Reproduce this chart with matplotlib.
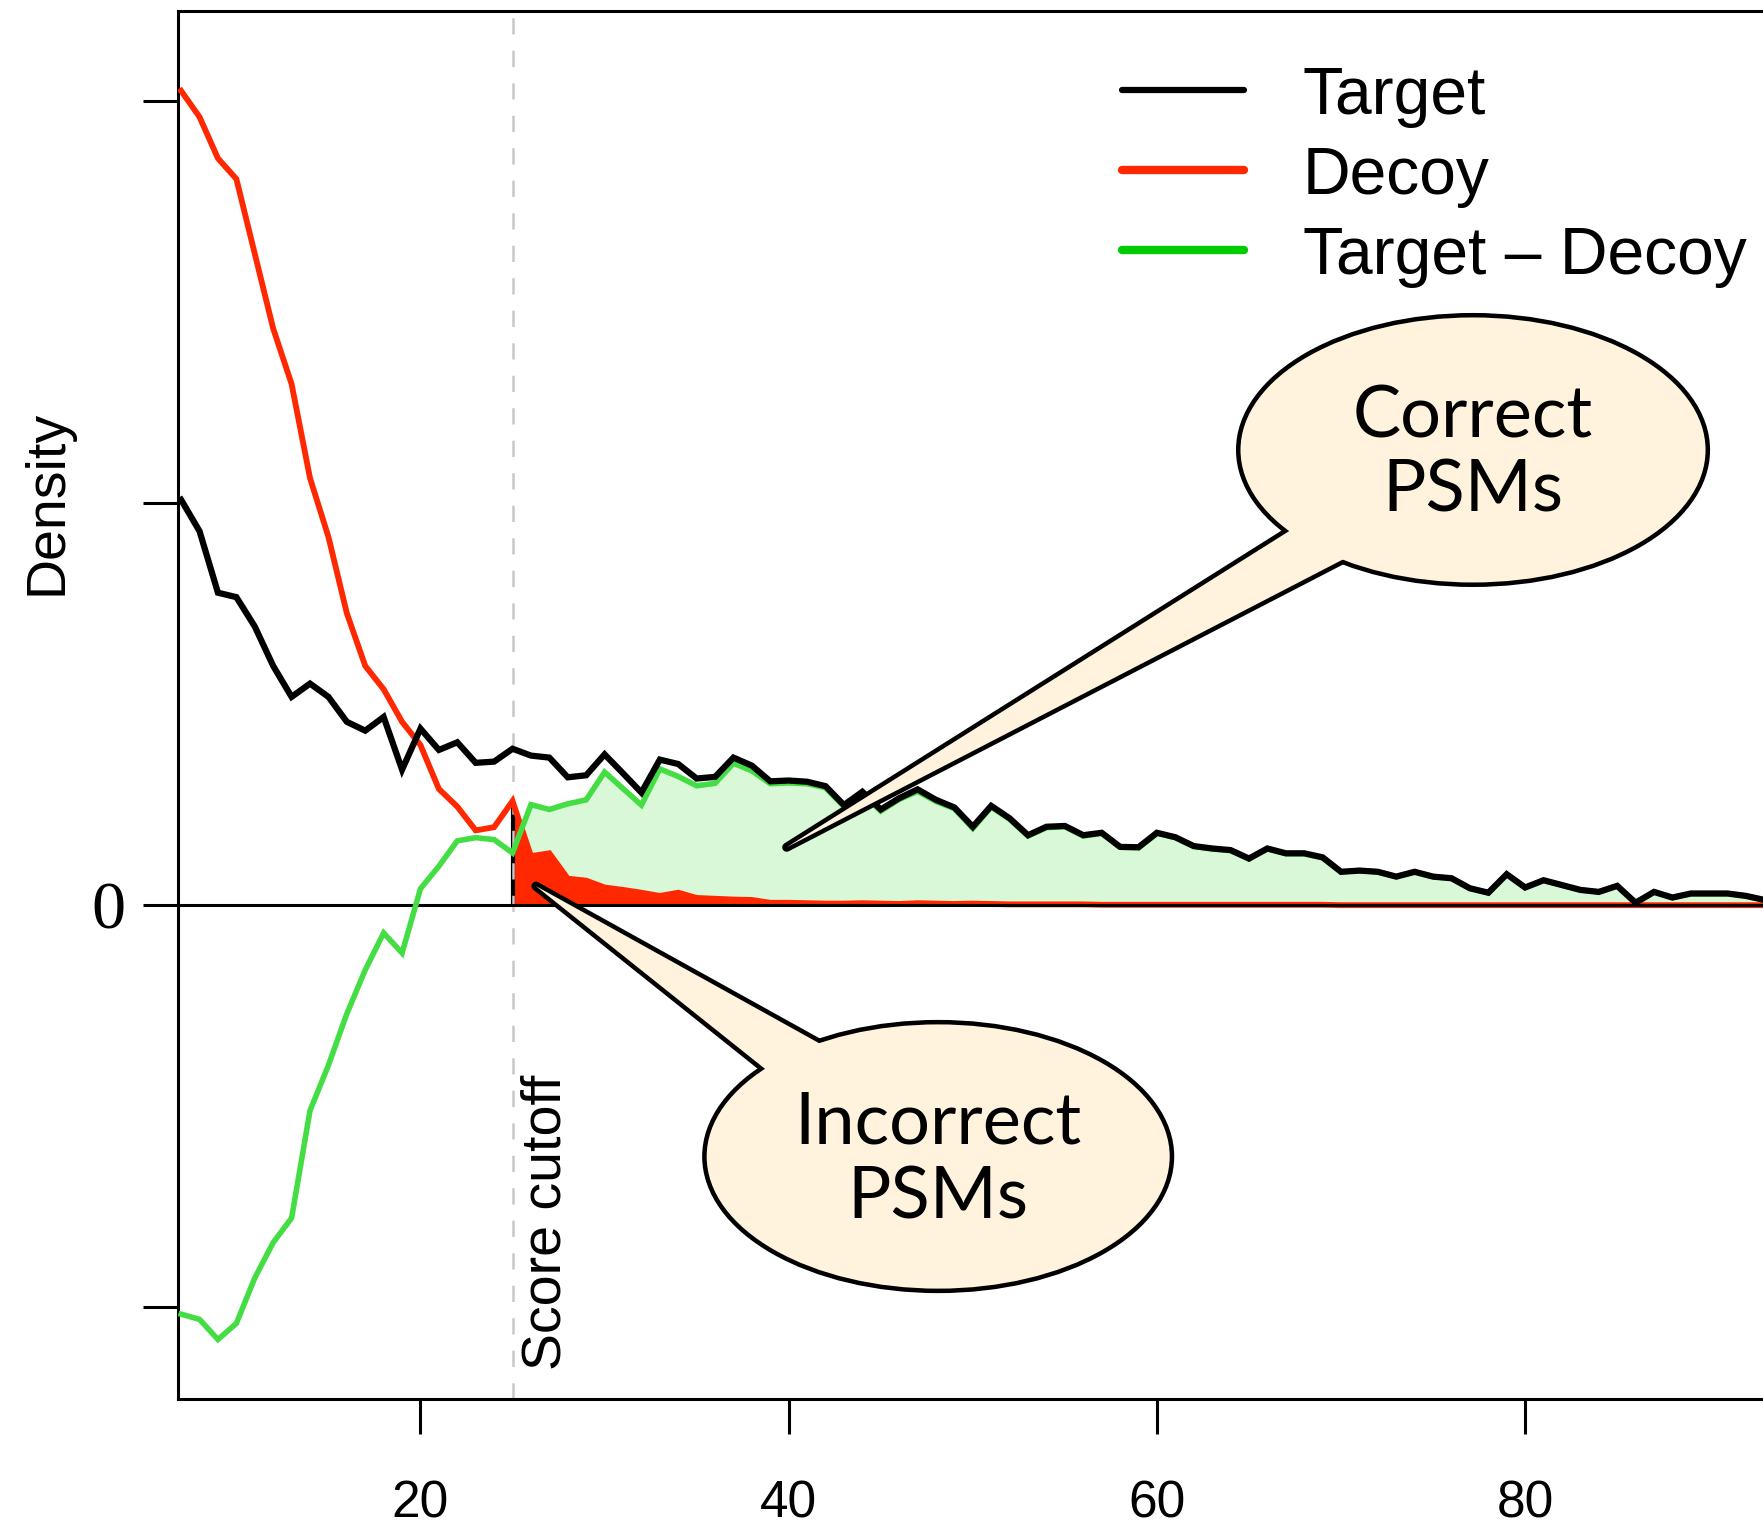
import numpy as np
import matplotlib.pyplot as plt
from matplotlib.patches import Ellipse, Polygon
from matplotlib.lines import Line2D

# score bins and densities (target / decoy search)
score = np.arange(7, 94)
target = [1.008, 0.930, 0.777, 0.766, 0.693, 0.595, 0.518, 0.551, 0.518, 0.456,
          0.434, 0.468, 0.337, 0.439, 0.386, 0.405, 0.354, 0.357, 0.389, 0.372,
          0.367, 0.318, 0.323, 0.375, 0.328, 0.280, 0.362, 0.351, 0.315, 0.319,
          0.367, 0.347, 0.308, 0.310, 0.307, 0.296, 0.249, 0.282, 0.238, 0.266,
          0.288, 0.262, 0.243, 0.195, 0.247, 0.216, 0.174, 0.195, 0.197, 0.174,
          0.180, 0.145, 0.144, 0.180, 0.169, 0.147, 0.141, 0.137, 0.116, 0.141,
          0.129, 0.129, 0.119, 0.083, 0.086, 0.083, 0.071, 0.083, 0.071, 0.067,
          0.042, 0.031, 0.077, 0.044, 0.062, 0.050, 0.038, 0.033, 0.048, 0.006,
          0.033, 0.019, 0.029, 0.029, 0.029, 0.023, 0.013]
decoy = [2.025, 1.960, 1.857, 1.806, 1.620, 1.434, 1.296, 1.062, 0.916, 0.726,
         0.595, 0.537, 0.456, 0.398, 0.289, 0.245, 0.186, 0.194, 0.259, 0.122,
         0.129, 0.066, 0.061, 0.044, 0.038, 0.031, 0.023, 0.031, 0.018, 0.016,
         0.014, 0.013, 0.006, 0.006, 0.005, 0.004, 0.004, 0.005, 0.004, 0.003,
         0.005, 0.004, 0.003, 0.004, 0.003, 0.002, 0.002, 0.002, 0.002, 0.002,
         0.001, 0.001, 0.001, 0.001, 0.001, 0.001, 0.001, 0.001, 0.001, 0.001,
         0.001, 0.001, 0.001, 0.000, 0.000, 0.000, 0.000, 0.000, 0.000, 0.000,
         0.000, 0.000, 0.000, 0.000, 0.000, 0.000, 0.000, 0.000, 0.000, 0.000,
         0.000, 0.000, 0.000, 0.000, 0.000, 0.000, 0.000]
cutoff = 25

x_ticks = [20, 40, 60, 80]
y_ticks = [-1, 0, 1, 2]
y_tick_labels = ['', '0', '', '']
legend_labels = ['Target', 'Decoy', 'Target \u2013 Decoy']

target = np.array(target)
decoy = np.array(decoy)
diff = target - decoy

BLACK = 'black'
RED = '#ff2800'
GREEN = '#44dd44'
GREEN_LEG = '#00cc00'
LIGHT_GREEN = '#d8f8d8'
BEIGE = '#fff3dd'
SANS = 'Liberation Sans'

W, H = 1763, 1526
fig = plt.figure(figsize=(W / 100, H / 100), dpi=100)
ax = fig.add_axes([178 / W, 1 - 1399 / H, 1 - 178 / W, (1399 - 11) / H])

above = score >= cutoff
ax.fill_between(score[above], 0, diff[above], color=LIGHT_GREEN, lw=0, zorder=1)
ax.fill_between(score[above], 0, decoy[above], color=RED, lw=0, zorder=1.5)
ax.vlines(cutoff, 0, decoy[score == cutoff][0], color=BLACK, lw=3, zorder=2)
ax.axvline(cutoff, color='#c8c8c8', lw=1.8, ls=(0, (6.5, 6.5)), zorder=2.5)

ax.plot(score, decoy, color=RED, lw=4.2, zorder=3, solid_joinstyle='miter')
ax.axhline(0, color=BLACK, lw=2.2, zorder=3.5)
ax.plot(score, diff, color=GREEN, lw=4.0, zorder=4, solid_joinstyle='miter')
ax.plot(score, target, color=BLACK, lw=4.5, zorder=5, solid_joinstyle='miter')

ax.set_xlim(6.83, 92.92)
ax.set_ylim(-1.228, 2.2236)
ax.set_xticks(x_ticks)
ax.set_xticklabels([str(t) for t in x_ticks], fontsize=37, family=SANS)
ax.set_yticks(y_ticks)
ax.set_yticklabels(y_tick_labels, fontsize=49, family='Liberation Serif')
ax.tick_params(axis='x', length=25, width=2.2, pad=33)
ax.tick_params(axis='y', length=25, width=2.2, pad=13)
for side in ['left', 'bottom', 'top']:
    ax.spines[side].set_linewidth(2.2)
ax.spines['right'].set_visible(False)

fig.text(48 / W, 1 - 502 / H, 'Density', rotation=90, ha='center', va='center',
         fontsize=40, family=SANS)

ax.text(26.85, -1.155, 'Score cutoff', rotation=90, ha='center', va='bottom',
        fontsize=40, family=SANS, zorder=6)

# legend drawn by hand in figure pixels
leg_colors = [BLACK, RED, GREEN_LEG]
leg_widths = [4.5, 6, 6]
for i, (lab, col, lw) in enumerate(zip(legend_labels, leg_colors, leg_widths)):
    yy = 90 + i * 80
    fig.add_artist(Line2D([1122 / W, 1244 / W], [1 - yy / H, 1 - yy / H],
                          color=col, lw=lw, solid_capstyle='round'))
    fig.text(1303 / W, 1 - (yy + 24) / H, lab, ha='left', va='baseline',
             fontsize=47.5, family=SANS)


def callout(center, width, height, base, tip, label):
    tip = np.array(tip)
    pts = [tip] + [tip + 1.2 * (np.array(b) - tip) for b in base]
    ell_kw = dict(xy=center, width=width, height=height, facecolor=BEIGE)
    ax.add_patch(Ellipse(**ell_kw, edgecolor=BLACK, lw=6.5, zorder=10))
    ax.add_patch(Polygon(pts, closed=True, facecolor=BEIGE, edgecolor=BLACK,
                         lw=6.5, joinstyle='round', zorder=10))
    ax.add_patch(Ellipse(**ell_kw, edgecolor='none', lw=0, zorder=11))
    ax.add_patch(Polygon(pts, closed=True, facecolor=BEIGE, edgecolor='none',
                         lw=0, zorder=11))
    ax.text(center[0], center[1] - 0.01, label, ha='center', va='center',
            fontsize=52, family='Lato', linespacing=1.18, zorder=12)


callout((77.17, 1.132), 25.26, 0.659, [(67.28, 0.933), (70.16, 0.861)],
        (39.89, 0.144), 'Correct\nPSMs')
callout((48.12, -0.625), 25.15, 0.657, [(38.88, -0.413), (41.84, -0.348)],
        (26.27, 0.0475), 'Incorrect\nPSMs')

fig.savefig('out.png', dpi=100)
